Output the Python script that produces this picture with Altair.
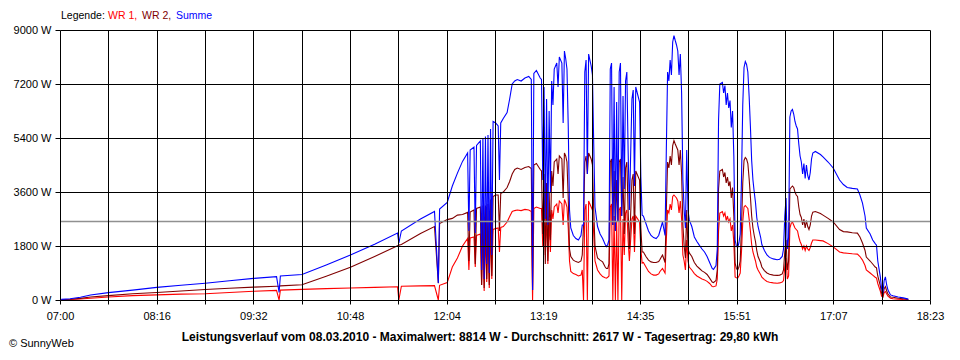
import json
import altair as alt
import pandas as pd

FONT = "Liberation Sans"

# ---------------- data ----------------
times = [
    # morning
    "07:01", "07:08", "07:16", "07:24", "07:38", "07:57", "08:16", "08:35", "08:54", "09:13",
    "09:32", "09:50", "09:52", "09:53", "10:10", "10:29", "10:48", "11:07", "11:25", "11:26",
    "11:28", "11:43", "11:54", "11:57", "11:58",
    # noon rise
    "12:04", "12:08", "12:12", "12:16", "12:20", "12:21", "12:22", "12:25", "12:26", "12:27",
    "12:30", "12:31", "12:32", "12:33", "12:34", "12:35", "12:36", "12:37", "12:38", "12:39",
    "12:40", "12:42", "12:44", "12:45", "12:46", "12:48", "12:51", "12:53", "12:55", "12:57",
    "12:59", "13:02", "13:05", "13:08", "13:10", "13:11", "13:12", "13:14", "13:17", "13:18",
    # clouds 1
    "13:19", "13:20", "13:21", "13:22", "13:23", "13:24", "13:25", "13:26", "13:27", "13:28",
    "13:30", "13:31", "13:32",
    "13:34", "13:35", "13:36", "13:37", "13:38", "13:39", "13:40", "13:41",
    "13:43", "13:45", "13:47", "13:49",
    "13:50", "13:51", "13:52", "13:53", "13:54", "13:55",
    "13:57", "13:58", "13:59",
    "14:00", "14:02", "14:04", "14:06", "14:08", "14:09", "14:10", "14:11",
    # clouds 2
    "14:12", "14:13", "14:14", "14:15", "14:16", "14:17", "14:18", "14:19", "14:20", "14:21",
    "14:22", "14:23", "14:24", "14:25", "14:26", "14:27",
    "14:29", "14:30", "14:31", "14:32",
    "14:35", "14:36", "14:37", "14:38",
    "14:40", "14:42", "14:44", "14:46", "14:48", "14:50",
    "14:51", "14:53", "14:55", "14:56", "14:57", "14:58", "14:59",
    "15:00", "15:01", "15:02", "15:03", "15:04", "15:05", "15:06", "15:07", "15:08", "15:09",
    "15:10", "15:11", "15:12", "15:13", "15:14",
    "15:16", "15:18", "15:20", "15:22", "15:24", "15:26", "15:28", "15:30", "15:32",
    "15:33", "15:35", "15:36",
    # afternoon
    "15:37", "15:38", "15:40", "15:41", "15:42", "15:43", "15:44", "15:45", "15:46", "15:47",
    "15:48", "15:49",
    "15:50", "15:51", "15:52", "15:53", "15:54", "15:55", "15:56", "15:57", "15:58", "15:59",
    "16:00", "16:01", "16:02",
    "16:03", "16:04", "16:05", "16:06", "16:07", "16:08", "16:10", "16:11", "16:13", "16:15",
    "16:17", "16:20", "16:23", "16:25", "16:27",
    "16:28", "16:29", "16:30", "16:31", "16:32", "16:33", "16:34", "16:35", "16:36", "16:37",
    "16:38", "16:39", "16:40", "16:41", "16:42", "16:43", "16:44", "16:45", "16:46", "16:47",
    "16:48", "16:49", "16:50", "16:51",
    "16:53", "16:57", "16:59", "17:03", "17:07", "17:12", "17:15", "17:18", "17:22", "17:26",
    "17:28", "17:30", "17:32", "17:33", "17:36", "17:38", "17:40", "17:41",
    "17:42", "17:44", "17:45", "17:46", "17:47", "17:48", "17:49", "17:50", "17:52", "17:54",
    "17:58", "18:02", "18:06",
]

wr1 = [
    10, 15, 35, 60, 100, 145, 170, 195, 210, 250,
    290, 320, 0, 330, 355, 380, 400, 420, 440, 0,
    460, 470, 480, 0, 490,
    580, 1100, 1400, 1800, 2050, 1000, 2070, 2100, 1100, 2150,
    2200, 500, 2250, 300, 2300, 600, 2300, 400, 2330, 700,
    2350, 2380, 2400, 1600, 2420, 2450, 2600, 2780, 2950, 2980,
    3000, 2980, 3020, 3000, 2950, 0, 3050, 3100, 3050, 3050,
    1800, 2900, 1500, 2800, 1200, 2700, 1600, 3000, 2700, 3100,
    3200, 2900, 3300,
    3200, 2500, 3350, 3250, 3100, 2400, 1300, 950,
    880, 850, 800, 830,
    1000, 0, 3000, 3200, 0, 3300,
    3100, 3000, 2200,
    1300, 1000, 870, 780, 740, 730, 760, 800,
    3100, 3200, 0, 2800, 0, 2600, 0, 3000, 3100, 0,
    2700, 1500, 2900, 3000, 2000, 1300,
    2700, 2800, 1600, 2800,
    2600, 1700, 1230, 1250,
    1100, 950, 870, 830, 830, 870,
    950, 1050, 900, 2000, 3000, 2900, 3200,
    3000, 3450, 3500, 3450, 3400, 3300, 2900, 3300, 2700, 1500,
    1300, 1000, 2000, 1300, 1100,
    1000, 880, 800, 750, 700, 670, 620, 550, 450,
    440, 470, 700,
    2300, 2900, 2950, 2800, 2900, 2650, 2800, 2600, 2700, 2300,
    2500, 1900,
    770, 740, 730, 800, 900, 1600, 2600, 3100, 3150, 3100,
    3050, 2700, 2300,
    1850, 1600, 1450, 1300, 1100, 1000, 850, 760, 680, 620,
    590, 570, 560, 570, 600,
    650, 1100, 1400, 700, 800, 2400, 2550, 2600, 2500, 2400,
    2350, 2300, 2100, 1950, 1850, 1700, 1800, 1650, 1800, 1700,
    1650, 1750, 1900, 2000,
    2000, 1980, 1970, 1880, 1770, 1600, 1570, 1560, 1540, 1530,
    1450, 1330, 1150, 1000, 900, 830, 760, 730,
    550, 300, 130, 100, 250, 280, 200, 130, 60, 40,
    25, 15, 10,
]

wr2 = [
    10, 25, 55, 100, 145, 210, 250, 300, 350, 390,
    430, 460, 460, 470, 510, 790, 1090, 1450, 1810, 1830,
    1850, 2220, 2450, 560, 2550,
    2680, 2720, 2830, 2850, 2920, 1300, 2930, 3000, 1200, 3050,
    3100, 500, 3150, 400, 3150, 700, 3200, 500, 3350, 800,
    3450, 3500, 3500, 2300, 3550, 3600, 3750, 3950, 4200, 4350,
    4400, 4350, 4420, 4450, 4380, 330, 4500, 4550, 4350, 4300,
    2200, 4200, 1200, 3900, 1300, 3600, 2000, 4300, 3800, 4600,
    4700, 4200, 4800,
    4700, 3400, 4900, 4800, 4600, 3400, 1700, 1450,
    1330, 1280, 1250, 1300,
    1500, 2500, 4600, 4800, 4200, 4900,
    4700, 4500, 3000,
    1800, 1400, 1330, 1270, 1100, 1050, 1050, 1200,
    4600, 4700, 2500, 4300, 2300, 4000, 2600, 4600, 4700, 2800,
    4100, 2200, 4400, 4600, 3000, 1700,
    4000, 4200, 2200, 4300,
    4000, 2400, 1600, 1600,
    1450, 1330, 1270, 1250, 1250, 1280,
    1350, 1500, 1250, 3000, 4600, 4400, 4800,
    4500, 5150, 5314, 5200, 5100, 5000, 4500, 5000, 4200, 2500,
    1800, 1400, 3000, 1700, 1570,
    1450, 1250, 1130, 1050, 970, 920, 850, 730, 600,
    580, 650, 1000,
    3700, 4300, 4350, 4100, 4250, 3900, 4100, 3800, 3950, 3400,
    3750, 2800,
    1230, 1050, 1000, 1100, 1300, 2400, 3900, 4650, 4750, 4700,
    4550, 4050, 3450,
    2800, 2400, 2150, 1950, 1650, 1450, 1250, 1100, 980, 900,
    860, 830, 820, 830, 870,
    1000, 1600, 2000, 1000, 1300, 3700, 3750, 3800, 3750, 3600,
    3500, 3450, 3100, 2850, 2750, 2500, 2700, 2400, 2650, 2450,
    2350, 2500, 2800, 2930,
    2950, 2880, 2830, 2720, 2600, 2350, 2280, 2270, 2240, 2230,
    2100, 1900, 1650, 1430, 1300, 1200, 1100, 1070,
    800, 470, 230, 130, 380, 450, 300, 200, 100, 90,
    60, 40, 15,
]

summe = [
    20, 40, 90, 165, 245, 330, 420, 490, 560, 640,
    720, 780, 250, 800, 850, 1170, 1500, 1860, 2230, 1900,
    2300, 2700, 2950, 570, 3030,
    3250, 3800, 4230, 4620, 4900, 2300, 5000, 5100, 2230, 5150,
    5300, 1000, 5400, 700, 5450, 1200, 5500, 900, 5700, 1500,
    5950, 5900, 5800, 4000, 5900, 6050, 6250, 6700, 7200, 7300,
    7350, 7300, 7400, 7450, 7350, 330, 7550, 7650, 7400, 7350,
    4000, 7100, 2700, 6700, 2500, 6300, 3600, 7300, 6500, 7700,
    7900, 7100, 8100,
    7900, 5900, 8300, 8050, 7700, 5800, 3000, 2400,
    2150, 2050, 2000, 2150,
    2500, 2500, 7600, 8000, 4200, 8200,
    7800, 7500, 5200,
    3100, 2450, 2200, 2050, 1850, 1780, 1850, 2000,
    7700, 7900, 2500, 7100, 2300, 6600, 2600, 7600, 7900, 2800,
    6800, 3700, 7300, 7600, 5000, 3000,
    6700, 7000, 3800, 7100,
    6600, 4100, 2830, 2800,
    2550, 2300, 2150, 2080, 2050, 2150,
    2300, 2600, 2150, 5000, 7600, 7300, 8000,
    7500, 8600, 8814, 8650, 8500, 8300, 7500, 8200, 6900, 4000,
    3000, 2400, 5000, 3000, 2670,
    2450, 2100, 1950, 1820, 1700, 1600, 1450, 1250, 1050,
    1020, 1150, 1700,
    6000, 7200, 7250, 6900, 7150, 6500, 6900, 6400, 6650, 5750,
    6300, 4800,
    2000, 1800, 1750, 1900, 2200, 4000, 6500, 7750, 7950, 7850,
    7600, 6800, 5800,
    4650, 4000, 3600, 3250, 2750, 2450, 2100, 1850, 1650, 1500,
    1420, 1370, 1340, 1360, 1450,
    1700, 2800, 3400, 1700, 2100, 6100, 6300, 6350, 6200, 5950,
    5800, 5700, 5200, 4800, 4600, 4200, 4550, 4050, 4500, 4150,
    4000, 4250, 4700, 4900,
    4950, 4850, 4770, 4600, 4400, 4000, 3850, 3750, 3720, 3700,
    3500, 3230, 2800, 2400, 2200, 2000, 1880, 1830,
    1300, 770, 380, 230, 650, 770, 500, 330, 170, 140,
    100, 70, 30,
]

x_labels = ["07:00", "08:16", "09:32", "10:48", "12:04", "13:19", "14:35", "15:51", "17:07", "18:23"]
y_ticks = [0, 1800, 3600, 5400, 7200, 9000]
average_w = 2617
legend_parts = ["Legende:", "WR 1,", "WR 2,", "Summe"]
legend_colors = ["#000000", "#ff0000", "#800000", "#0000ff"]
title_text = ("Leistungsverlauf vom 08.03.2010 - Maximalwert: 8814 W - "
              "Durchschnitt: 2617 W - Tagesertrag: 29,80 kWh")
copyright_text = "\u00a9 SunnyWeb"

assert len(times) == len(wr1) == len(wr2) == len(summe), (len(times), len(wr1), len(wr2), len(summe))

# ---------------- build ----------------
def to_min(t):
    h, m = t.split(":")
    return (int(h) - 7) * 60 + int(m)

span = to_min(x_labels[-1]) - to_min(x_labels[0])
n_grid = 2 * (len(x_labels) - 1)
step = span / n_grid
grid_values = [i * step for i in range(n_grid + 1)]
labels_all = [x_labels[i // 2] if i % 2 == 0 else "" for i in range(n_grid + 1)]
x_label_expr = f"{json.dumps(labels_all)}[round(datum.value / {step})]"

df = pd.DataFrame({
    "m": [to_min(t) for t in times],
    "wr1": wr1,
    "wr2": wr2,
    "summe": summe,
})

xscale = alt.Scale(domain=[0, span], nice=False, zero=False)
yscale = alt.Scale(domain=[0, 9000], nice=False)


def x_axis():
    return alt.Axis(values=grid_values, labelExpr=x_label_expr, title=None, grid=True,
                    gridColor="black", gridWidth=1, gridOpacity=1, tickColor="black",
                    tickSize=4, domain=False, labelFont=FONT, labelFontSize=11,
                    labelColor="black", labelPadding=6, labelFlush=False,
                    labelOverlap=False, zindex=1)


def y_axis():
    return alt.Axis(values=y_ticks, labelExpr="datum.value + ' W'", title=None, grid=True,
                    gridColor="black", gridWidth=1, gridOpacity=1, tickColor="black",
                    tickSize=5, domain=False, labelFont=FONT, labelFontSize=11,
                    labelColor="black", labelPadding=4, labelOverlap=False, zindex=1)


base = alt.Chart(df)
lines = []
for field, col in [("wr1", "#ff0000"), ("wr2", "#800000"), ("summe", "#0000ff")]:
    lines.append(
        base.mark_line(color=col, strokeWidth=1.1).encode(
            x=alt.X("m:Q", scale=xscale, axis=x_axis()),
            y=alt.Y(f"{field}:Q", scale=yscale, axis=y_axis()),
        )
    )

avg_rule = alt.Chart(pd.DataFrame({"avg": [average_w]})).mark_rule(
    color="#909090", strokeWidth=1.5
).encode(y=alt.Y("avg:Q", scale=yscale, axis=y_axis()))

legend_x = [1, 48, 82, 116]
texts = []
for part, col, lx in zip(legend_parts, legend_colors, legend_x):
    texts.append(
        alt.Chart(pd.DataFrame({"t": [part]})).mark_text(
            align="left", baseline="middle", font=FONT, fontSize=10.5, color=col
        ).encode(x=alt.value(lx), y=alt.value(-14), text="t:N")
    )
texts.append(
    alt.Chart(pd.DataFrame({"t": [title_text]})).mark_text(
        align="center", baseline="middle", font=FONT, fontSize=12, fontWeight="bold",
        color="black"
    ).encode(x=alt.value(420), y=alt.value(307), text="t:N")
)
texts.append(
    alt.Chart(pd.DataFrame({"t": [copyright_text]})).mark_text(
        align="left", baseline="middle", font=FONT, fontSize=11, color="black"
    ).encode(x=alt.value(-51), y=alt.value(314), text="t:N")
)

chart = alt.layer(*lines, avg_rule, *texts).properties(
    width=870,
    height=270,
    autosize="none",
    padding={"left": 52, "top": 22, "right": 18, "bottom": 50},
    background="white",
).configure_view(stroke=None)

chart.save("out.html", embed_options={"renderer": "svg", "actions": False})
